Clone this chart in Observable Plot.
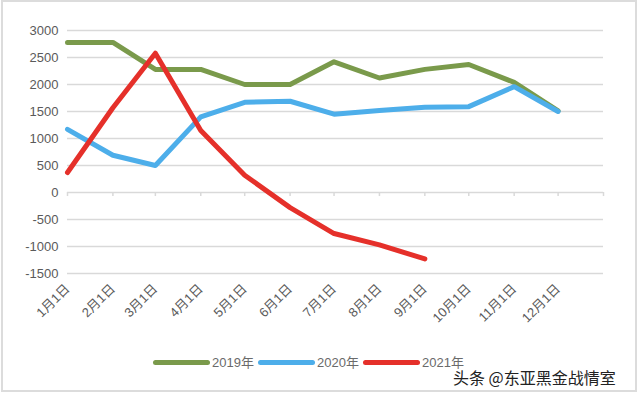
<!DOCTYPE html>
<html>
<head>
<meta charset="utf-8">
<script src="https://cdn.jsdelivr.net/npm/d3@7"></script>
<script src="https://cdn.jsdelivr.net/npm/@observablehq/plot@0.6"></script>
<style>
  html, body { margin: 0; padding: 0; background: #fff; }
  body { width: 640px; height: 395px; position: relative; overflow: hidden;
         font-family: "Liberation Sans", "Noto Sans CJK SC", sans-serif; }
  #frame { position: absolute; left: 1px; top: 0px; width: 632px; height: 388px;
           border: 2px solid #dcdcdc; box-sizing: content-box; }
  #chart { position: absolute; left: 0; top: 0; }
  #legend { position: absolute; left: 0; top: 356px; width: 640px; height: 14px; }
  .sw { position: absolute; top: 4px; height: 5px; border-radius: 3px; }
  .lt { position: absolute; top: 0px; font-size: 13px; color: #6a6a6a; line-height: 14px;
        font-family: "Liberation Sans", "Noto Sans CJK SC", sans-serif; white-space: nowrap; }
  #wm { position: absolute; left: 453px; top: 370px; font-size: 16px; color: #222;
        font-family: "Noto Sans CJK SC", sans-serif; line-height: 15px;
        text-shadow: 0 0 2px #fff, 0 0 2px #fff; white-space: nowrap; }
</style>
</head>
<body>
<div id="frame"></div>
<div id="chart"></div>
<div id="legend"></div>
<div id="wm">头条 @东亚黑金战情室</div>
<script>
const months = ["1月1日","2月1日","3月1日","4月1日","5月1日","6月1日","7月1日","8月1日","9月1日","10月1日","11月1日","12月1日"];
const seriesNames = ["2019年","2020年","2021年"];
const seriesColors = ["#7a9a4b","#4daeea","#e5302a"];
const v2019 = [2780, 2780, 2280, 2280, 2000, 2000, 2420, 2120, 2280, 2370, 2040, 1510];
const v2020 = [1170, 690, 500, 1400, 1670, 1690, 1450, 1520, 1580, 1590, 1960, 1500];
const v2021 = [370, 1570, 2580, 1150, 320, -280, -760, -970, -1230];
const yTicks = [-1500, -1000, -500, 0, 500, 1000, 1500, 2000, 2500, 3000];

const monthDate = i => new Date(Date.UTC(2020, i, 1));
const values = [v2019, v2020, v2021];
const data = [];
values.forEach((arr, s) => arr.forEach((v, i) => data.push({series: seriesNames[s], date: monthDate(i), value: v})));
const tickDates = d3.range(13).map(monthDate);
const labelDates = d3.range(12).map(monthDate);

const chart = Plot.plot({
  width: 640,
  height: 330,
  marginLeft: 67,
  marginRight: 37,
  marginTop: 30,
  marginBottom: 57,
  style: { fontSize: "13px", color: "#5a5a5a", background: "transparent",
           fontFamily: "'Liberation Sans', 'Noto Sans CJK SC', sans-serif" },
  x: { type: "utc", domain: [monthDate(0), monthDate(12)] },
  y: { domain: [-1500, 3000] },
  color: { domain: seriesNames, range: seriesColors },
  marks: [
    Plot.ruleY(yTicks, { stroke: "#d9d9d9", strokeWidth: 1.5 }),
    Plot.ruleX(tickDates, { y1: 0, y2: -75, stroke: "#d9d9d9", strokeWidth: 1.5 }),
    Plot.axisY({ ticks: yTicks, tickSize: 0, tickPadding: 9, tickFormat: d => String(d), label: null }),
    Plot.axisX({ ticks: labelDates, tickSize: 0, tickPadding: 13, tickRotate: -45,
                 tickFormat: d => months[d.getUTCMonth()], label: null }),
    Plot.line(data, { x: "date", y: "value", z: "series", stroke: "series",
                      strokeWidth: 5, strokeLinejoin: "round", strokeLinecap: "round" })
  ]
});
document.getElementById("chart").appendChild(chart);

const legend = document.getElementById("legend");
const swX = [153, 258, 363];
seriesNames.forEach((name, i) => {
  const sw = document.createElement("div");
  sw.className = "sw";
  sw.style.left = swX[i] + "px";
  sw.style.width = "57px";
  sw.style.background = seriesColors[i];
  legend.appendChild(sw);
  const t = document.createElement("div");
  t.className = "lt";
  t.style.left = (swX[i] + 59) + "px";
  t.textContent = name;
  legend.appendChild(t);
});
</script>
</body>
</html>
